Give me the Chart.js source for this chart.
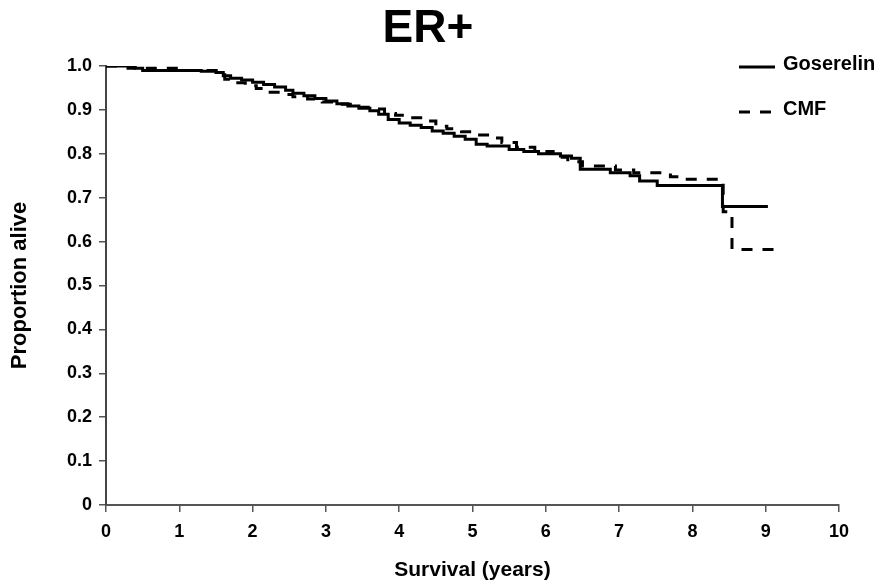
<!DOCTYPE html>
<html>
<head>
<meta charset="utf-8">
<title>ER+ survival</title>
<script src="https://cdn.jsdelivr.net/npm/chart.js@4.4.1/dist/chart.umd.min.js"></script>
<style>
  html, body { margin: 0; padding: 0; background: #fff; }
  #wrap { width: 892px; height: 587px; }
</style>
</head>
<body>
<div id="wrap"><canvas id="survChart" width="892" height="587"></canvas></div>
<script>
// Kaplan-Meier estimates, read as (time in years, proportion alive after the step)
const gosTime = [0, 0.4, 0.5, 1.3, 1.5, 1.6, 1.7, 1.85, 2.0, 2.15, 2.3, 2.45, 2.55, 2.7, 2.85, 3.0, 3.15, 3.3, 3.45, 3.6, 3.72, 3.85, 4.0, 4.15, 4.3, 4.45, 4.6, 4.75, 4.9, 5.05, 5.2, 5.5, 5.7, 5.9, 6.2, 6.35, 6.47, 6.88, 7.15, 7.28, 7.52, 8.41, 9.03];
const gosSurv = [1.0, 0.995, 0.99, 0.988, 0.985, 0.978, 0.972, 0.968, 0.963, 0.958, 0.952, 0.945, 0.938, 0.932, 0.926, 0.92, 0.914, 0.909, 0.904, 0.898, 0.89, 0.878, 0.87, 0.865, 0.86, 0.852, 0.847, 0.84, 0.833, 0.822, 0.818, 0.81, 0.805, 0.8, 0.795, 0.79, 0.765, 0.757, 0.75, 0.738, 0.728, 0.68, 0.68];

const cmfTime = [0, 0.3, 1.0, 1.55, 1.62, 1.75, 1.9, 2.05, 2.2, 2.4, 2.55, 2.75, 2.95, 3.15, 3.4, 3.6, 3.8, 3.95, 4.15, 4.35, 4.5, 4.65, 4.85, 5.05, 5.25, 5.4, 5.6, 5.85, 6.1, 6.3, 6.5, 6.95, 7.2, 7.7, 7.9, 8.42, 8.54, 9.13];
const cmfSurv = [1.0, 0.995, 0.99, 0.985, 0.97, 0.962, 0.955, 0.949, 0.94, 0.935, 0.93, 0.925, 0.918, 0.913, 0.906, 0.902, 0.892, 0.888, 0.882, 0.875, 0.863, 0.857, 0.85, 0.843, 0.836, 0.826, 0.815, 0.805, 0.792, 0.782, 0.772, 0.763, 0.757, 0.748, 0.742, 0.668, 0.582, 0.582];

const groupNames = ['Goserelin', 'CMF'];
const chartTitle = 'ER+';
const xTitle = 'Survival (years)';
const yTitle = 'Proportion alive';

const FONT = '"Liberation Sans", Arial, Helvetica, sans-serif';

function toPoints(times, surv) {
    return times.map((t, i) => ({ x: t, y: surv[i] }));
}

// title and inline legend drawn on top of the plot
const annotate = {
    id: 'annotate',
    afterDraw(chart) {
        const ctx = chart.ctx;
        ctx.save();
        ctx.fillStyle = '#000';
        ctx.font = 'bold 46px ' + FONT;
        ctx.textAlign = 'center';
        ctx.textBaseline = 'middle';
        ctx.fillText(chartTitle, 428, 29);

        ctx.textAlign = 'left';
        ctx.font = 'bold 20px ' + FONT;
        chart.data.datasets.forEach((ds, i) => {
            const y = 67 + i * 45;
            ctx.strokeStyle = ds.borderColor;
            ctx.lineWidth = 3;
            ctx.setLineDash(ds.borderDash || []);
            ctx.beginPath();
            ctx.moveTo(739, y);
            ctx.lineTo(i === 0 ? 775 : 772, y);
            ctx.stroke();
            ctx.setLineDash([]);
            ctx.fillText(ds.label, 783, y - 3);
        });
        ctx.restore();
    }
};

const ctx = document.getElementById('survChart').getContext('2d');
const survChart = new Chart(ctx, {
    type: 'line',
    data: {
        datasets: [{
            label: groupNames[0],
            data: toPoints(gosTime, gosSurv),
            borderColor: '#000',
            borderWidth: 3,
            stepped: 'before',
            pointRadius: 0,
            fill: false
        }, {
            label: groupNames[1],
            data: toPoints(cmfTime, cmfSurv),
            borderColor: '#000',
            borderWidth: 3,
            borderDash: [11, 10],
            stepped: 'before',
            pointRadius: 0,
            fill: false
        }]
    },
    options: {
        responsive: false,
        animation: false,
        devicePixelRatio: 1,
        layout: {
            padding: { top: 66, right: 53, bottom: 0, left: 0 }
        },
        scales: {
            x: {
                type: 'linear',
                min: 0,
                max: 10,
                afterFit: scale => { scale.height = 82; },
                ticks: {
                    stepSize: 1,
                    padding: 9,
                    color: '#000',
                    font: { family: FONT, size: 18, weight: 'bold' }
                },
                grid: { drawOnChartArea: false, drawTicks: true, tickLength: 7, color: '#555', lineWidth: 1.5 },
                border: { color: '#555', width: 2 },
                title: {
                    display: true,
                    text: xTitle,
                    color: '#000',
                    padding: { top: 0, bottom: 4 },
                    font: { family: FONT, size: 21, weight: 'bold' }
                }
            },
            y: {
                min: 0,
                max: 1,
                afterFit: scale => { scale.width = 106; },
                ticks: {
                    stepSize: 0.1,
                    padding: 7,
                    color: '#000',
                    font: { family: FONT, size: 18, weight: 'bold' },
                    callback: value => value === 0 ? '0' : value.toFixed(1)
                },
                grid: { drawOnChartArea: false, drawTicks: true, tickLength: 7, color: '#555', lineWidth: 1.5 },
                border: { color: '#444', width: 2 },
                title: {
                    display: true,
                    text: yTitle,
                    color: '#000',
                    padding: { top: 7, bottom: 0 },
                    font: { family: FONT, size: 22, weight: 'bold' }
                }
            }
        },
        plugins: {
            legend: { display: false },
            title: { display: false },
            tooltip: { enabled: false }
        }
    },
    plugins: [annotate]
});
</script>
</body>
</html>
